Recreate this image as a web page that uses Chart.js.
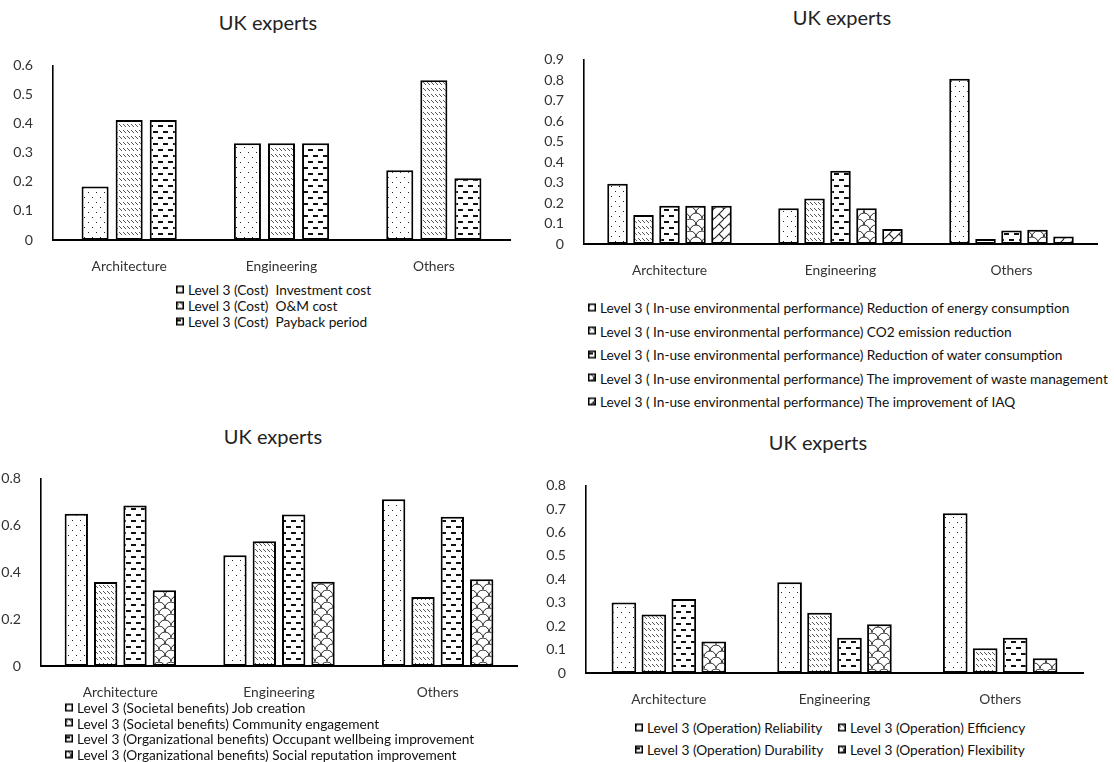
<!DOCTYPE html>
<html>
<head>
<meta charset="utf-8">
<script src="https://cdn.jsdelivr.net/npm/chart.js@4.4.0/dist/chart.umd.min.js"></script>
<style>
  body { margin:0; background:#fff; width:1114px; height:762px; position:relative; overflow:hidden; font-family:Lato, sans-serif; }
  .title { position:absolute; font-size:20px; color:#222; transform:translate(-50%,-50%); white-space:nowrap; }
  .leg { position:absolute; font-size:13.7px; color:#111; white-space:pre; display:flex; align-items:center; transform:translateY(-50%); }
  .leg canvas { margin-right:4px; }
  canvas.chart { position:absolute; }
</style>
</head>
<body>
<script>
// Categories shared by all four panels
const categories = ['Architecture', 'Engineering', 'Others'];

// Panel 1: cost
const costLabels = ['Level 3 (Cost)  Investment cost', 'Level 3 (Cost)  O&M cost', 'Level 3 (Cost)  Payback period'];
const costInvestment = [0.184, 0.333, 0.240];
const costOM = [0.413, 0.333, 0.549];
const costPayback = [0.413, 0.333, 0.212];
const costTicks = { max: 0.6, step: 0.1 };

// Panel 2: in-use environmental performance
const envLabels = [
  'Level 3 ( In-use environmental performance) Reduction of energy consumption',
  'Level 3 ( In-use environmental performance) CO2 emission reduction',
  'Level 3 ( In-use environmental performance) Reduction of water consumption',
  'Level 3 ( In-use environmental performance) The improvement of waste management',
  'Level 3 ( In-use environmental performance) The improvement of IAQ'
];
const envEnergy = [0.294, 0.175, 0.806];
const envCO2 = [0.142, 0.222, 0.024];
const envWater = [0.186, 0.357, 0.066];
const envWaste = [0.186, 0.175, 0.069];
const envIAQ = [0.186, 0.073, 0.036];
const envTicks = { max: 0.9, step: 0.1 };

// Panel 3: societal and organizational benefits
const benefitLabels = [
  'Level 3 (Societal benefits) Job creation',
  'Level 3 (Societal benefits) Community engagement',
  'Level 3 (Organizational benefits) Occupant wellbeing improvement',
  'Level 3 (Organizational benefits) Social reputation improvement'
];
const benefitJob = [0.650, 0.473, 0.712];
const benefitCommunity = [0.358, 0.532, 0.294];
const benefitOccupant = [0.685, 0.646, 0.637];
const benefitReputation = [0.323, 0.359, 0.370];
const benefitTicks = { max: 0.8, step: 0.2 };

// Panel 4: operation
const opLabels = ['Level 3 (Operation) Reliability', 'Level 3 (Operation) Efficiency', 'Level 3 (Operation) Durability', 'Level 3 (Operation) Flexibility'];
const opReliability = [0.301, 0.387, 0.682];
const opEfficiency = [0.250, 0.257, 0.106];
const opDurability = [0.316, 0.150, 0.150];
const opFlexibility = [0.134, 0.208, 0.063];
const opTicks = { max: 0.8, step: 0.1 };

// ---- fill patterns ----
function tile(w, h, draw) {
  const c = document.createElement('canvas');
  c.width = w; c.height = h;
  const g = c.getContext('2d');
  g.fillStyle = '#fff'; g.fillRect(0, 0, w, h);
  g.fillStyle = '#000'; g.strokeStyle = '#000';
  draw(g);
  return c;
}
const tiles = {
  dots: () => tile(8, 10, g => { g.fillStyle = '#222'; g.fillRect(1, 2, 1, 1); g.fillRect(5, 7, 1, 1); }),
  slash: () => tile(4, 6, g => { g.fillStyle = '#555'; g.fillRect(0, 1, 1, 1); g.fillRect(1, 2, 1, 1); g.fillRect(2, 3, 1, 1); }),
  dash: () => tile(10, 12, g => { g.fillStyle = '#111'; g.fillRect(0, 2, 5, 2); g.fillRect(5, 8, 5, 2); }),
  scale: () => tile(12, 12, g => {
    g.lineWidth = 1; g.strokeStyle = '#222';
    g.beginPath(); g.arc(6, 12, 6, Math.PI, 2 * Math.PI); g.stroke();
    g.beginPath(); g.arc(0, 6, 6, Math.PI * 1.5, Math.PI * 2); g.stroke();
    g.beginPath(); g.arc(12, 6, 6, Math.PI, Math.PI * 1.5); g.stroke();
  }),
  brick: () => tile(10, 10, g => {
    g.lineWidth = 1.1; g.strokeStyle = '#222';
    g.beginPath(); g.moveTo(-1, 11); g.lineTo(11, -1); g.stroke();
    g.beginPath(); g.moveTo(5, 5); g.lineTo(10, 10); g.stroke();
  })
};
function pattern(ctx, kind) { return ctx.createPattern(tiles[kind](), 'repeat'); }

// ---- panel builder ----
function addText(cls, text, x, y) {
  const d = document.createElement('div');
  d.className = cls; d.textContent = text;
  d.style.left = x + 'px'; d.style.top = y + 'px';
  document.body.appendChild(d);
  return d;
}
function addLegendItem(text, kind, x, y) {
  const d = document.createElement('div');
  d.className = 'leg';
  d.style.left = x + 'px'; d.style.top = y + 'px';
  const sw = document.createElement('canvas');
  sw.width = 8; sw.height = 8;
  const g = sw.getContext('2d');
  g.fillStyle = pattern(g, kind); g.fillRect(0, 0, 8, 8);
  g.strokeStyle = '#000'; g.lineWidth = 1.5; g.strokeRect(0.75, 0.75, 6.5, 6.5);
  d.appendChild(sw);
  const s = document.createElement('span'); s.textContent = text;
  d.appendChild(s);
  document.body.appendChild(d);
}

function buildPanel(p) {
  const yW = 50, padTop = 10, padRight = 4, xH = 34;
  const cv = document.createElement('canvas');
  cv.className = 'chart';
  const w = Math.round(p.plot.r - p.plot.l + yW + padRight);
  const h = Math.round(p.plot.b - p.plot.t + padTop + xH);
  cv.width = w; cv.height = h;
  cv.style.left = (p.plot.l - yW) + 'px';
  cv.style.top = (p.plot.t - padTop) + 'px';
  document.body.appendChild(cv);
  const ctx = cv.getContext('2d');
  new Chart(ctx, {
    type: 'bar',
    data: {
      labels: categories,
      datasets: p.series.map((s, i) => ({
        label: p.labels[i],
        data: s.data,
        backgroundColor: pattern(ctx, s.kind),
        borderColor: '#000',
        borderWidth: 2,
        borderSkipped: false,
        categoryPercentage: p.catPct,
        barPercentage: p.barPct
      }))
    },
    options: {
      responsive: false,
      animation: false,
      devicePixelRatio: 1,
      layout: { padding: { top: padTop, right: padRight, left: 0, bottom: 0 } },
      plugins: { legend: { display: false }, title: { display: false }, tooltip: { enabled: false } },
      scales: {
        x: {
          offset: true,
          grid: { display: false },
          border: { display: true, color: '#000', width: 2 },
          ticks: { color: '#333', padding: 10, font: { family: 'Lato', size: 13.8 } },
          afterFit: s => { s.height = xH; }
        },
        y: {
          min: 0, max: p.ticks.max,
          grid: { display: false },
          border: { display: true, color: '#000', width: 1.6 },
          ticks: { stepSize: p.ticks.step, color: '#333', padding: 12, font: { family: 'Lato', size: 14.2 } },
          afterFit: s => { s.width = yW; }
        }
      }
    }
  });
  addText('title', 'UK experts', p.title[0], p.title[1]);
  p.legend.forEach((pos, i) => addLegendItem(p.labels[i], p.series[i].kind, pos[0], pos[1]));
}

buildPanel({
  plot: { l: 52.5, t: 54.7, r: 509, b: 239.3 }, ticks: costTicks, catPct: 0.671, barPct: 0.794,
  labels: costLabels,
  series: [{ data: costInvestment, kind: 'dots' }, { data: costOM, kind: 'slash' }, { data: costPayback, kind: 'dash' }],
  title: [268, 22],
  legend: [[176, 289], [176, 305], [176, 321]]
});
buildPanel({
  plot: { l: 584, t: 49.3, r: 1097, b: 244 }, ticks: envTicks, catPct: 0.76, barPct: 0.79,
  labels: envLabels,
  series: [{ data: envEnergy, kind: 'dots' }, { data: envCO2, kind: 'slash' }, { data: envWater, kind: 'dash' },
           { data: envWaste, kind: 'scale' }, { data: envIAQ, kind: 'brick' }],
  title: [842, 17],
  legend: [[588, 307], [588, 330.5], [588, 354], [588, 377.5], [588, 401]]
});
buildPanel({
  plot: { l: 40.5, t: 468.3, r: 516, b: 666.7 }, ticks: benefitTicks, catPct: 0.74, barPct: 0.795,
  labels: benefitLabels,
  series: [{ data: benefitJob, kind: 'dots' }, { data: benefitCommunity, kind: 'slash' },
           { data: benefitOccupant, kind: 'dash' }, { data: benefitReputation, kind: 'scale' }],
  title: [273, 436],
  legend: [[65, 707], [65, 722.5], [65, 738], [65, 754]]
});
buildPanel({
  plot: { l: 586, t: 475, r: 1083, b: 672.7 }, ticks: opTicks, catPct: 0.723, barPct: 0.823,
  labels: opLabels,
  series: [{ data: opReliability, kind: 'dots' }, { data: opEfficiency, kind: 'slash' },
           { data: opDurability, kind: 'dash' }, { data: opFlexibility, kind: 'scale' }],
  title: [818, 442],
  legend: [[635, 727], [838, 727], [635, 749], [838, 749]]
});
</script>
</body>
</html>
